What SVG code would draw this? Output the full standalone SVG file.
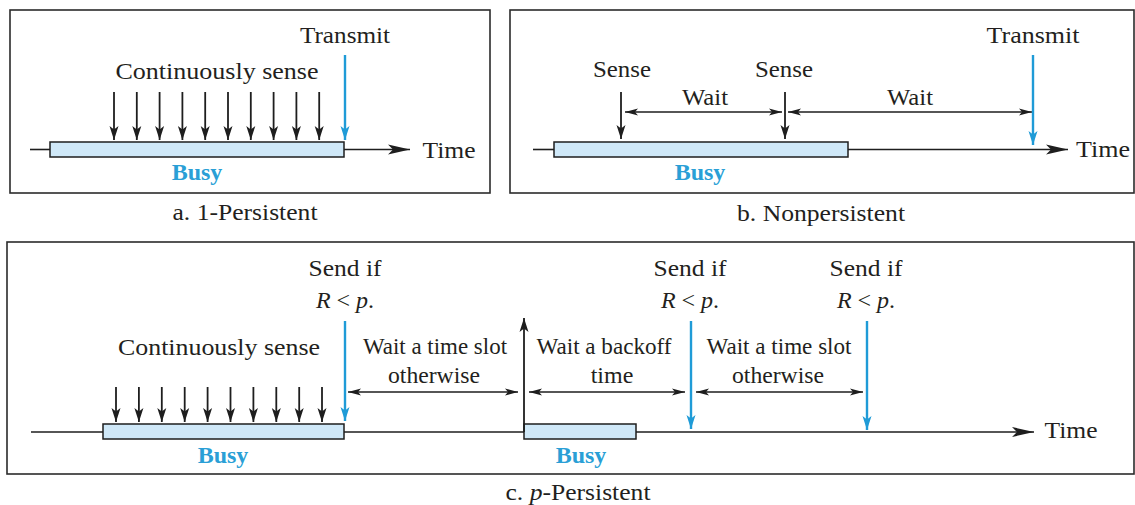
<svg xmlns="http://www.w3.org/2000/svg" width="1135" height="505" viewBox="0 0 1135 505">
<defs>
<marker id="ah" markerUnits="userSpaceOnUse" viewBox="0 0 14 10" markerWidth="14" markerHeight="10" refX="14" refY="5" orient="auto-start-reverse"><path d="M0,0.5 L14,5 L0,9.5 L3.5,5 z" fill="#1e1e1e"/></marker>
<marker id="ahb" markerUnits="userSpaceOnUse" viewBox="0 0 14 10" markerWidth="14" markerHeight="10" refX="14" refY="5" orient="auto"><path d="M0,0.5 L14,5 L0,9.5 L3.5,5 z" fill="#1f9bd7"/></marker>
<marker id="ahs" markerUnits="userSpaceOnUse" viewBox="0 0 13 8" markerWidth="13" markerHeight="8" refX="13" refY="4" orient="auto-start-reverse"><path d="M0,0.5 L13,4 L0,7.5 L3,4 z" fill="#1e1e1e"/></marker>
<marker id="aht" markerUnits="userSpaceOnUse" viewBox="0 0 22 11" markerWidth="22" markerHeight="11" refX="22" refY="5.5" orient="auto"><path d="M0,0.5 L22,5.5 L0,10.5 L5,5.5 z" fill="#1e1e1e"/></marker>
</defs>
<style>
.box{fill:none;stroke:#2b2b2b;stroke-width:1.6}
.ln{stroke:#1e1e1e;stroke-width:1.6;fill:none}
.dn{stroke:#1e1e1e;stroke-width:1.8;fill:none;marker-end:url(#ah)}
.bl{stroke:#1f9bd7;stroke-width:2.4;fill:none;marker-end:url(#ahb)}
.dbl{stroke:#1e1e1e;stroke-width:1.4;fill:none;marker-start:url(#ahs);marker-end:url(#ahs)}
.tl{stroke:#1e1e1e;stroke-width:1.6;fill:none;marker-end:url(#aht)}
.bar{fill:#cfe8f8;stroke:#1e1e1e;stroke-width:1.5}
text{font-size:24px;fill:#231f20;text-anchor:middle}
.busy{fill:#2a9fd6;font-weight:bold}
.it{font-style:italic}
</style>

<g id="panel-a" font-family="Liberation Serif, Times New Roman, serif">
<rect class="box" x="10" y="10" width="480" height="183"/>
<rect class="bar" x="50" y="142" width="294" height="15"/>
<text x="345" y="43" textLength="90" lengthAdjust="spacingAndGlyphs">Transmit</text>
<text x="217" y="79" textLength="203" lengthAdjust="spacingAndGlyphs">Continuously sense</text>
<text class="busy" x="197" y="180">Busy</text>
<text x="449" y="158" textLength="53" lengthAdjust="spacingAndGlyphs">Time</text>
<text x="245" y="220" textLength="145" lengthAdjust="spacingAndGlyphs">a. 1-Persistent</text>
</g>

<g id="panel-b" font-family="Liberation Serif, Times New Roman, serif">
<rect class="box" x="510" y="10" width="624" height="183"/>
<rect class="bar" x="554" y="142" width="294" height="15"/>
<text x="622" y="77" textLength="58" lengthAdjust="spacingAndGlyphs">Sense</text>
<text x="784" y="77" textLength="58" lengthAdjust="spacingAndGlyphs">Sense</text>
<text x="705" y="105" textLength="46" lengthAdjust="spacingAndGlyphs">Wait</text>
<text x="910" y="105" textLength="46" lengthAdjust="spacingAndGlyphs">Wait</text>
<text x="1033" y="43" textLength="93" lengthAdjust="spacingAndGlyphs">Transmit</text>
<text x="1103" y="157" textLength="54" lengthAdjust="spacingAndGlyphs">Time</text>
<text class="busy" x="700" y="180">Busy</text>
<text x="821" y="221" textLength="168" lengthAdjust="spacingAndGlyphs">b. Nonpersistent</text>
</g>

<g id="panel-c" font-family="Liberation Serif, Times New Roman, serif">
<rect class="box" x="7" y="242" width="1127" height="232"/>
<rect class="bar" x="103" y="424" width="241" height="15"/>
<rect class="bar" x="524" y="424" width="112" height="15"/>
<text x="345" y="276" textLength="73" lengthAdjust="spacingAndGlyphs">Send if</text>
<text x="345" y="308"><tspan class="it">R</tspan> &lt; <tspan class="it">p</tspan>.</text>
<text x="690" y="276" textLength="73" lengthAdjust="spacingAndGlyphs">Send if</text>
<text x="690" y="308"><tspan class="it">R</tspan> &lt; <tspan class="it">p</tspan>.</text>
<text x="866" y="276" textLength="73" lengthAdjust="spacingAndGlyphs">Send if</text>
<text x="866" y="308"><tspan class="it">R</tspan> &lt; <tspan class="it">p</tspan>.</text>
<text x="219" y="355" textLength="202" lengthAdjust="spacingAndGlyphs">Continuously sense</text>
<text x="435" y="354" textLength="144" lengthAdjust="spacingAndGlyphs">Wait a time slot</text>
<text x="434" y="383" textLength="92" lengthAdjust="spacingAndGlyphs">otherwise</text>
<text x="604" y="354" textLength="135" lengthAdjust="spacingAndGlyphs">Wait a backoff</text>
<text x="612" y="383">time</text>
<text x="779" y="354" textLength="145" lengthAdjust="spacingAndGlyphs">Wait a time slot</text>
<text x="778" y="383" textLength="92" lengthAdjust="spacingAndGlyphs">otherwise</text>
<text class="busy" x="223" y="463">Busy</text>
<text class="busy" x="581" y="463">Busy</text>
<text x="1071" y="438" textLength="53" lengthAdjust="spacingAndGlyphs">Time</text>
<text x="578" y="500" textLength="145" lengthAdjust="spacingAndGlyphs">c. <tspan class="it">p</tspan>-Persistent</text>
</g>

<g id="connectors">
<line class="ln" x1="30" y1="149.5" x2="50" y2="149.5"/>
<line class="tl" x1="344" y1="149.5" x2="410" y2="149.5"/>
<line class="dn" x1="114" y1="92" x2="114" y2="140"/>
<line class="dn" x1="136.8" y1="92" x2="136.8" y2="140"/>
<line class="dn" x1="159.6" y1="92" x2="159.6" y2="140"/>
<line class="dn" x1="182.4" y1="92" x2="182.4" y2="140"/>
<line class="dn" x1="205.2" y1="92" x2="205.2" y2="140"/>
<line class="dn" x1="228" y1="92" x2="228" y2="140"/>
<line class="dn" x1="250.8" y1="92" x2="250.8" y2="140"/>
<line class="dn" x1="273.6" y1="92" x2="273.6" y2="140"/>
<line class="dn" x1="296.4" y1="92" x2="296.4" y2="140"/>
<line class="dn" x1="319.2" y1="92" x2="319.2" y2="140"/>
<line class="bl" x1="345" y1="55" x2="345" y2="140"/>
<line class="ln" x1="533" y1="149.5" x2="554" y2="149.5"/>
<line class="tl" x1="848" y1="149.5" x2="1068" y2="149.5"/>
<line class="dn" x1="621" y1="92" x2="621" y2="139"/>
<line class="dn" x1="785" y1="92" x2="785" y2="139"/>
<line class="dbl" x1="625" y1="112" x2="782" y2="112"/>
<line class="dbl" x1="788" y1="112" x2="1032" y2="112"/>
<line class="bl" x1="1033" y1="55" x2="1033" y2="145"/>
<line class="ln" x1="31" y1="432" x2="103" y2="432"/>
<line class="ln" x1="344" y1="432" x2="524" y2="432"/>
<line class="tl" x1="636" y1="432" x2="1034" y2="432"/>
<line class="dn" x1="116" y1="387" x2="116" y2="422"/>
<line class="dn" x1="138.9" y1="387" x2="138.9" y2="422"/>
<line class="dn" x1="161.8" y1="387" x2="161.8" y2="422"/>
<line class="dn" x1="184.7" y1="387" x2="184.7" y2="422"/>
<line class="dn" x1="207.6" y1="387" x2="207.6" y2="422"/>
<line class="dn" x1="230.5" y1="387" x2="230.5" y2="422"/>
<line class="dn" x1="253.4" y1="387" x2="253.4" y2="422"/>
<line class="dn" x1="276.3" y1="387" x2="276.3" y2="422"/>
<line class="dn" x1="299.2" y1="387" x2="299.2" y2="422"/>
<line class="dn" x1="322" y1="387" x2="322" y2="422"/>
<line class="bl" x1="345" y1="321" x2="345" y2="421"/>
<line class="bl" x1="691" y1="321" x2="691" y2="429"/>
<line class="bl" x1="867" y1="321" x2="867" y2="430"/>
<line class="dn" x1="524" y1="432" x2="524" y2="318"/>
<line class="dbl" x1="348" y1="392" x2="518" y2="392"/>
<line class="dbl" x1="529" y1="392" x2="685" y2="392"/>
<line class="dbl" x1="696" y1="392" x2="863" y2="392"/>
</g>
</svg>
